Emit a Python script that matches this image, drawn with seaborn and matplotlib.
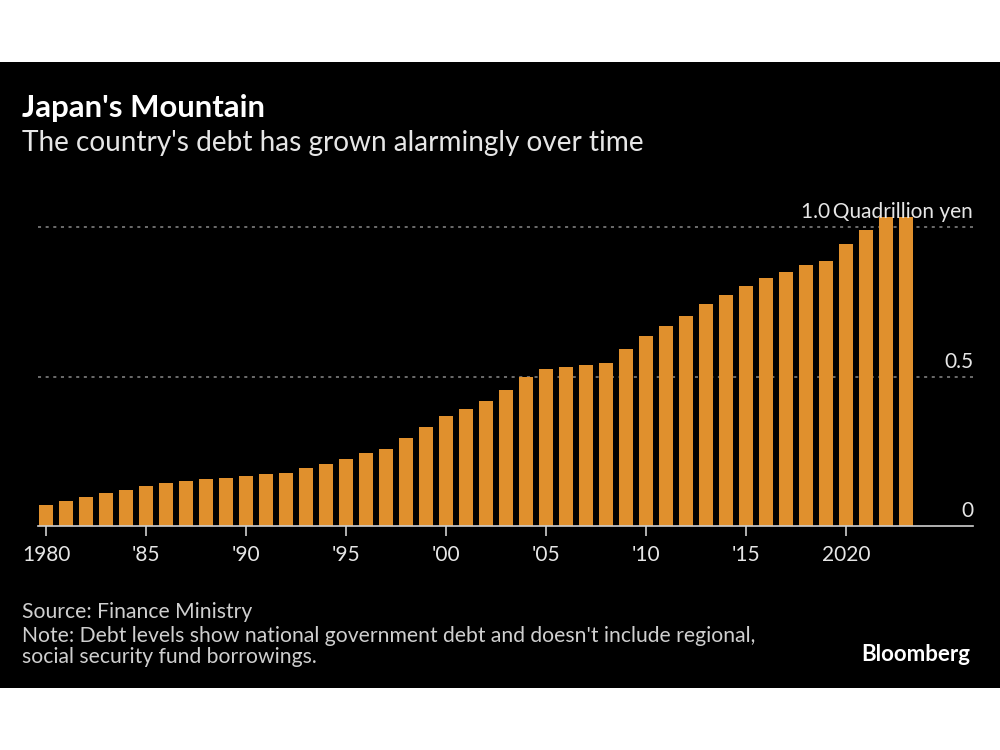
import matplotlib
matplotlib.use("Agg")
import matplotlib.pyplot as plt
import matplotlib.transforms as mtransforms
from matplotlib.patches import Rectangle
import seaborn as sns
import pandas as pd

# ---- data ----
years = list(range(1980, 2024))
debt = [0.070, 0.083, 0.096, 0.110, 0.121, 0.134, 0.145, 0.152, 0.157, 0.162,
        0.166, 0.173, 0.178, 0.193, 0.207, 0.225, 0.244, 0.258, 0.294, 0.331,
        0.367, 0.391, 0.420, 0.456, 0.498, 0.526, 0.531, 0.539, 0.545, 0.593,
        0.635, 0.670, 0.705, 0.744, 0.774, 0.804, 0.831, 0.851, 0.873, 0.886,
        0.945, 0.991, 1.040, 1.070]
xtick_years = [1980, 1985, 1990, 1995, 2000, 2005, 2010, 2015, 2020]
xtick_labels = ["1980", "'85", "'90", "'95", "'00", "'05", "'10", "'15", "2020"]
ytick_values = [0, 0.5, 1.0]
ytick_labels = ["0", "0.5", "1.0\u2009Quadrillion yen"]

title = "Japan's Mountain"
subtitle = "The country's debt has grown alarmingly over time"
source = "Source: Finance Ministry"
note = ("Note: Debt levels show national government debt and doesn't include regional,\n"
        "social security fund borrowings.")
brand = "Bloomberg"

df = pd.DataFrame({"year": years, "debt": debt})

sns.set_theme(style="white")
FONT = ["Lato", "DejaVu Sans"]
plt.rcParams["font.family"] = FONT

BAR = "#E0902D"
TXT = "#E6E6E6"

fig = plt.figure(figsize=(10, 7.5), dpi=100, facecolor="white")
bg = Rectangle((0, 1 - 688 / 750), 1, 626 / 750, transform=fig.transFigure,
               facecolor="black", edgecolor="none", zorder=-10)
fig.add_artist(bg)

ax = fig.add_axes([0.038, 1 - 526 / 750, 0.935, (526 - 216.7) / 750])
ax.set_facecolor("none")
ax.set_zorder(2)

sns.barplot(data=df, x="year", y="debt", native_scale=True, width=0.7,
            color=BAR, saturation=1, linewidth=0, edgecolor="none", ax=ax, zorder=3)

ax.set_xlim(1979.6, 2026.35)
ax.set_ylim(0, 1.036)

for s in ["top", "right", "left"]:
    ax.spines[s].set_visible(False)
ax.spines["bottom"].set_color("#cfcfcf")
ax.spines["bottom"].set_linewidth(1.2)
ax.spines["bottom"].set_zorder(5)

ax.set_xticks(xtick_years, labels=xtick_labels)
ax.tick_params(axis="x", bottom=True, length=7, width=1.2, color="#cfcfcf",
               labelsize=15, labelcolor=TXT, pad=7)
ax.set_yticks([])
ax.set_xlabel("")
ax.set_ylabel("")

# gridlines + right-side labels
for v, lab in zip(ytick_values, ytick_labels):
    if v > 0:
        ax.axhline(v, color="#8a8a8a", lw=1.1, ls=(0, (2, 3)), zorder=1)
    ax.text(1.0, v, lab,
            transform=mtransforms.blended_transform_factory(ax.transAxes, ax.transData)
            + mtransforms.ScaledTranslation(0, 5 / 100, fig.dpi_scale_trans),
            ha="right", va="bottom", fontsize=15, color=TXT, clip_on=False)

fig.text(0.022, 0.856, title, fontsize=22.4, fontweight="bold", color="white",
         va="center", ha="left")
fig.text(0.022, 0.809, subtitle, fontsize=20.2, color=TXT, va="center", ha="left")
fig.text(0.022, 0.184, source, fontsize=15.2, color="#cfcfcf", va="center", ha="left")
fig.text(0.022, 0.138, note, fontsize=15.2, color="#cfcfcf", va="center", ha="left",
         linespacing=1.1)
fig.text(0.970, 0.127, brand, fontsize=16, fontweight="bold", color="white",
         va="center", ha="right")

fig.savefig("out.png", dpi=100, facecolor="white")
